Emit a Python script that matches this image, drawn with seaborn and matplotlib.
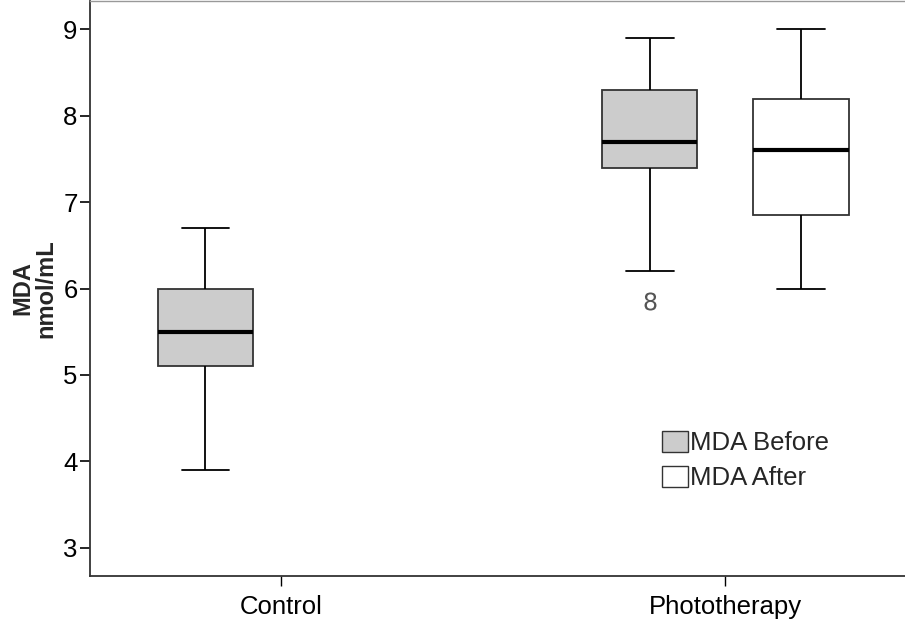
import numpy as np
import pandas as pd
import matplotlib
matplotlib.use("Agg")
import matplotlib.pyplot as plt
from matplotlib.patches import Patch
import seaborn as sns

# ---- values (five-number summaries per box) ----
groups = ["Control", "Phototherapy", "Phototherapy"]
series = ["MDA Before", "MDA Before", "MDA After"]
whisker_low = [3.9, 6.2, 6.0]
q1 = [5.1, 7.4, 6.85]
median = [5.5, 7.7, 7.6]
q3 = [6.0, 8.3, 8.2]
whisker_high = [6.7, 8.9, 9.0]
outliers = [[], [5.85], []]

categories = ["Control", "Phototherapy"]
hue_order = ["MDA Before", "MDA After"]
yticks = [3, 4, 5, 6, 7, 8, 9]
colors = {"MDA Before": "#cccccc", "MDA After": "#ffffff"}

# build observations that reproduce each summary exactly (9 points, linear percentiles)
rows = []
for g, s, lo, a, m, b, hi, out in zip(groups, series, whisker_low, q1, median, q3,
                                      whisker_high, outliers):
    first = out[0] if out else lo
    for v in [first, lo, a, a, m, m, b, b, hi]:
        rows.append({"group": g, "series": s, "value": v})
df = pd.DataFrame(rows)

sns.set_theme(style="white")
plt.rcParams["font.family"] = ["Liberation Sans", "DejaVu Sans"]

fig = plt.figure(figsize=(9.05, 6.28), dpi=100)
ax = fig.add_axes([90 / 905, 52 / 628, 1 - 90 / 905, 575 / 628])

sns.boxplot(
    data=df, x="group", y="value", hue="series",
    order=categories, hue_order=hue_order, palette=colors,
    width=0.68, gap=0.37, whis=1.5, linecolor="black", linewidth=1.3,
    medianprops=dict(linewidth=3, color="black"),
    boxprops=dict(edgecolor="#333333"),
    flierprops=dict(marker="$8$", markersize=13, markerfacecolor="#555555",
                    markeredgecolor="#555555", markeredgewidth=0),
    legend=False, ax=ax,
)

ax.set_xlim(-0.4297, 1.404)
ax.set_ylim(2.67, 9.33)
ax.set_yticks(yticks)
ax.set_yticklabels([str(t) for t in yticks])
ax.set_xlabel("")
ax.set_ylabel("MDA\nnmol/mL", fontsize=17, fontweight="bold", linespacing=1.0,
              labelpad=4)
ax.tick_params(axis="both", labelsize=18.5, colors="black")
ax.tick_params(axis="y", direction="out", length=7, width=1.2, left=True, pad=2)
ax.tick_params(axis="x", direction="out", length=7, width=1.0, bottom=True, pad=7)
for side in ["left", "bottom"]:
    ax.spines[side].set_color("#333333")
    ax.spines[side].set_linewidth(1.3)
ax.spines["top"].set_color("#999999")
ax.spines["top"].set_linewidth(1.0)
ax.spines["right"].set_visible(False)

handles = [Patch(facecolor=colors[h], edgecolor="#333333", linewidth=1.0) for h in hue_order]
ax.legend(handles, hue_order, loc="upper left", bbox_to_anchor=(0.702, 0.252),
          frameon=False, fontsize=18.5, handlelength=1.0, handleheight=0.85,
          handletextpad=0.1, labelspacing=0.42, borderpad=0, borderaxespad=0)

fig.savefig("out.png", dpi=100)
